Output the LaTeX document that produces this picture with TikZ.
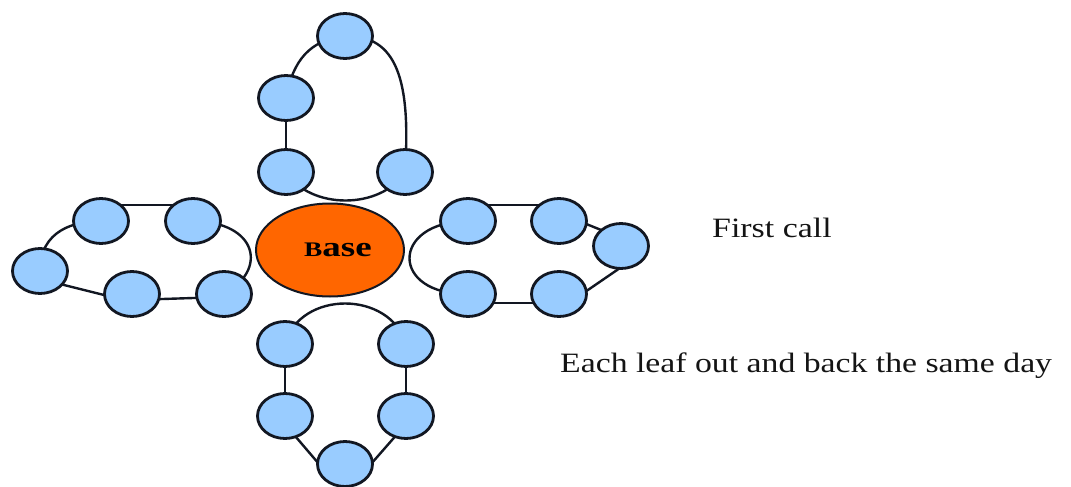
\documentclass[tikz,border=0pt]{standalone}
\usepackage{fontspec}
\setmainfont{Liberation Serif}
\usetikzlibrary{shapes.geometric,backgrounds}
\definecolor{leafblue}{HTML}{99CCFF}
\definecolor{baseorange}{HTML}{FF6600}
\definecolor{edgeink}{HTML}{121722}
\begin{document}
\begin{tikzpicture}[x=1pt,y=-1pt,
  leaf/.style={ellipse,draw=edgeink,fill=leafblue,line width=2.8pt,minimum width=55pt,minimum height=45pt,inner sep=0pt},
  hub/.style={ellipse,draw=edgeink,fill=baseorange,line width=2pt,minimum width=148pt,minimum height=93pt,inner sep=0pt,font=\fontsize{28pt}{30pt}\selectfont\bfseries},
  link/.style={draw=edgeink,line width=2.4pt},
  caption/.style={anchor=base west,inner sep=0pt,font=\fontsize{28pt}{31pt}\selectfont,text=black!92}]
\useasboundingbox (0,0) rectangle (1071,487);
\node[hub] (base) at (330,250) {\hspace*{16pt}\scalebox{1.32}[1]{\scalebox{0.74}{B}ase}};
% top loop
\node[leaf] (t1) at (345,36) {};
\node[leaf] (t2) at (286,98) {};
\node[leaf] (t3) at (286,172) {};
\node[leaf] (t4) at (405,172) {};
% left loop
\node[leaf] (l1) at (101,221) {};
\node[leaf] (l2) at (193,221) {};
\node[leaf] (l3) at (40,271) {};
\node[leaf] (l4) at (132,294) {};
\node[leaf] (l5) at (224,294) {};
% right loop
\node[leaf] (r1) at (468,221) {};
\node[leaf] (r2) at (559,221) {};
\node[leaf] (r3) at (621,246) {};
\node[leaf] (r4) at (468,294) {};
\node[leaf] (r5) at (559,294) {};
% bottom loop
\node[leaf] (b1) at (285,344) {};
\node[leaf] (b2) at (406,344) {};
\node[leaf] (b3) at (285,416) {};
\node[leaf] (b4) at (406,416) {};
\node[leaf] (b5) at (345,464) {};
% captions
\node[caption] (first) at (712,237) {\scalebox{1.21}[1]{First call}};
\node[caption] (each) at (560,372) {\scalebox{1.205}[1]{Each leaf out and back the same day}};
\begin{scope}[on background layer]
\fill[white] (0,0) rectangle (1071,487);
% top
\draw[link] (t3.center) .. controls (310,210) and (381,210) .. (t4.center);
\draw[link] (t4.center) .. controls (411,80) and (397,35) .. (t1.center);
\draw[link] (t1.center) .. controls (310,40) and (293,60) .. (t2.center);
\draw[link] (t2.center) -- (t3.center);
% left
\draw[link] ([yshift=16pt]l1.center) -- ([yshift=16pt]l2.center);
\draw[link] (l2.center) .. controls (258,222) and (268,270) .. (l5.center);
\draw[link] ([yshift=-3pt]l5.center) -- ([yshift=-6pt]l4.center);
\draw[link] ([yshift=-8pt]l4.center) -- ([yshift=-8pt]l3.center);
\draw[link] (l3.center) .. controls (40,230) and (75,221) .. (l1.center);
% right
\draw[link] ([yshift=16pt]r1.center) -- ([yshift=16pt]r2.center);
\draw[link] ([yshift=8pt]r2.center) -- ([yshift=8pt]r3.center);
\draw[link] ([xshift=-1pt,yshift=-22pt]r3.center) -- ([xshift=26pt,yshift=2pt]r5.center);
\draw[link] ([yshift=-9pt]r5.center) -- ([yshift=-9pt]r4.center);
\draw[link] (r1.center) .. controls (390,222) and (390,295) .. (r4.center);
% bottom
\draw[link] (b1.center) .. controls (300,290) and (390,290) .. (b2.center);
\draw[link] (b1.center) -- (b3.center);
\draw[link] (b2.center) -- (b4.center);
\draw[link] ([xshift=-7pt]b3.center) -- ([xshift=-26pt]b5.center);
\draw[link] ([xshift=7pt]b4.center) -- ([xshift=26pt]b5.center);
\end{scope}
\end{tikzpicture}
\end{document}
